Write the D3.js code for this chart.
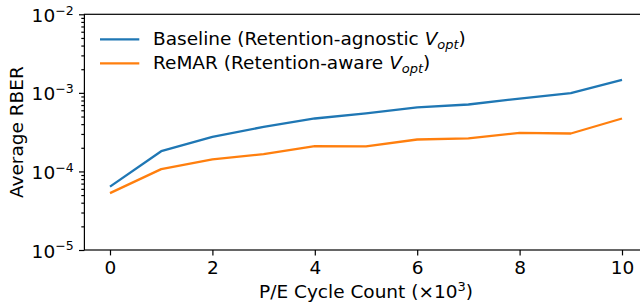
<!DOCTYPE html>
<meta charset="utf-8">
<title>Average RBER vs P/E Cycle Count</title>
<style>
  body { margin: 0; background-color: white; }
  svg { display: block; font-family: "DejaVu Sans", sans-serif; }
  .axis path, .axis line { stroke: #000; stroke-width: 1.2px; }
  .axis text { font-family: "DejaVu Sans", sans-serif; font-size: 18.5px; fill: #000; }
  .series { fill: none; stroke-width: 2.3px; stroke-linejoin: round; }
</style>
<svg width="640" height="308"></svg>
<script src="https://d3js.org/d3.v7.min.js"></script>
<script>
  // values
  var peCycles = [0, 1, 2, 3, 4, 5, 6, 7, 8, 9, 10];
  var baselineRber = [6.4e-5, 1.81e-4, 2.75e-4, 3.69e-4, 4.72e-4, 5.47e-4, 6.52e-4, 7.11e-4, 8.47e-4, 9.9e-4, 1.46e-3];
  var remarRber = [5.3e-5, 1.07e-4, 1.42e-4, 1.66e-4, 2.10e-4, 2.08e-4, 2.55e-4, 2.63e-4, 3.10e-4, 3.04e-4, 4.72e-4];
  var xTicks = [0, 2, 4, 6, 8, 10];
  var yTicks = [1e-5, 1e-4, 1e-3, 1e-2];
  var yTickExponents = ["\u22125", "\u22124", "\u22123", "\u22122"];
  var seriesNames = ["Baseline (Retention-agnostic ", "ReMAR (Retention-aware "];
  var seriesColors = ["#1f77b4", "#ff7f0e"];

  var svg = d3.select("svg");
  var plotL = 84.4, plotR = 647.6, plotT = 14.3, plotB = 250;
  var majorLen = 5.4, pad = 5.4, minorLen = 3.1;

  var x = d3.scaleLinear().domain([-0.5, 10.5]).range([plotL, plotR]);
  var y = d3.scaleLog().domain([1e-5, 1e-2]).range([plotB, plotT]);

  // minor log ticks 2..9 per decade
  var minorTicks = [];
  yTicks.slice(0, -1).forEach(function(d) {
    for (var k = 2; k <= 9; k++) minorTicks.push(d * k);
  });

  svg.append("g")
      .attr("class", "axis")
      .attr("transform", "translate(" + plotL + ",0)")
      .call(d3.axisLeft(y).tickValues(minorTicks).tickSize(minorLen).tickFormat(""))
      .call(function(g) { g.select(".domain").remove(); });

  var yAxis = svg.append("g")
      .attr("class", "axis")
      .attr("transform", "translate(" + plotL + ",0)")
      .call(d3.axisLeft(y).tickValues(yTicks).tickSize(majorLen).tickPadding(pad).tickFormat(""))
      .call(function(g) { g.select(".domain").remove(); });

  yAxis.selectAll(".tick text")
      .attr("dy", "7px")
      .each(function(d, i) {
        var t = d3.select(this);
        t.append("tspan").text("10");
        t.append("tspan").attr("dy", "-7.2px").style("font-size", "12.5px").text(yTickExponents[i]);
      });

  svg.append("g")
      .attr("class", "axis")
      .attr("transform", "translate(0," + plotB + ")")
      .call(d3.axisBottom(x).tickValues(xTicks).tickSize(majorLen).tickPadding(pad).tickFormat(d3.format("d")))
      .call(function(g) { g.select(".domain").remove(); });

  // frame
  svg.append("rect")
      .attr("x", plotL).attr("y", plotT)
      .attr("width", plotR - plotL).attr("height", plotB - plotT)
      .attr("fill", "none").attr("stroke", "#000").attr("stroke-width", 1.2);

  var line = d3.line()
      .x(function(d, i) { return x(peCycles[i]); })
      .y(function(d) { return y(d); });

  [baselineRber, remarRber].forEach(function(values, i) {
    svg.append("path")
        .datum(values)
        .attr("class", "series")
        .attr("stroke", seriesColors[i])
        .attr("d", line);
  });

  // legend
  var legend = svg.append("g").attr("transform", "translate(100,39.3)");
  seriesNames.forEach(function(name, i) {
    var row = legend.append("g").attr("transform", "translate(0," + (i * 24) + ")");
    row.append("line")
        .attr("x1", 0).attr("x2", 39.3)
        .attr("stroke", seriesColors[i]).attr("stroke-width", 2.3);
    var t = row.append("text")
        .attr("x", 53).attr("y", 6)
        .style("font-size", "18.5px");
    t.append("tspan").text(name);
    t.append("tspan").style("font-style", "italic").text("V");
    t.append("tspan").attr("dy", "3.8px").style("font-size", "13px").style("font-style", "italic").text("opt");
    t.append("tspan").attr("dy", "-3.8px").text(")");
  });

  // axis labels
  var xl = svg.append("text")
      .attr("x", (plotL + plotR) / 2).attr("y", 298)
      .attr("text-anchor", "middle")
      .style("font-size", "18.5px");
  xl.append("tspan").text("P/E Cycle Count (\u00d710");
  xl.append("tspan").attr("dy", "-7px").style("font-size", "13px").text("3");
  xl.append("tspan").attr("dy", "7px").text(")");

  svg.append("text")
      .attr("transform", "translate(23," + ((plotT + plotB) / 2) + ") rotate(-90)")
      .attr("text-anchor", "middle")
      .style("font-size", "18.5px")
      .text("Average RBER");
</script>
